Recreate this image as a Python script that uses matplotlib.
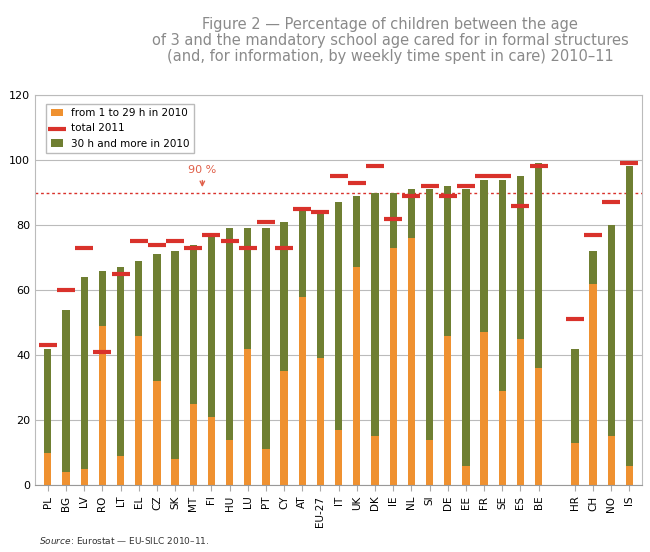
import matplotlib
matplotlib.use("Agg")
import matplotlib.pyplot as plt
import numpy as np

countries = ["PL","BG","LV","RO","LT","EL","CZ","SK","MT","FI","HU","LU","PT","CY","AT","EU-27","IT","UK","DK","IE","NL","SI","DE","EE","FR","SE","ES","BE","","HR","CH","NO","IS"]
total2010 = [42,54,64,66,67,69,71,72,74,77,79,79,79,81,85,84,87,89,90,90,91,91,92,91,94,94,95,99,None,42,72,80,98]
part_1_29 = [10,4,5,49,9,46,32,8,25,21,14,42,11,35,58,39,17,67,15,73,76,14,46,6,47,29,45,36,None,13,62,15,6]
total2011 = [43,60,73,41,65,75,74,75,73,77,75,73,81,73,85,84,95,93,98,82,89,92,89,92,95,95,86,98,None,51,77,87,99]

green = "#6f7f32"; orange = "#ef9130"; red = "#d9322b"
fig = plt.figure(figsize=(6.5,5.52), dpi=100)
ax = fig.add_axes([0.054, 0.121, 0.934, 0.707])
idx = [i for i,c in enumerate(countries) if c]
x = np.array(idx)
o = np.array([part_1_29[i] for i in idx]); t = np.array([total2010[i] for i in idx]); t11 = np.array([total2011[i] for i in idx])
ax.bar(x, o, width=0.4, color=orange, label="from 1 to 29 h in 2010", zorder=2)
ax.bar(x, t-o, bottom=o, width=0.4, color=green, label="30 h and more in 2010", zorder=2)
ax.scatter(x, t11, marker="_", s=180, linewidths=3, color=red, label="total 2011", zorder=3)
ax.axhline(90, color=red, ls=(0,(2,2)), lw=1, zorder=1)
ax.annotate("90 %", xy=(8.5, 90.8), xytext=(8.5, 96), ha="center", color="#e0604a", fontsize=8,
            arrowprops=dict(arrowstyle="->", color="#e0604a", lw=1))
ax.set_xlim(-0.7, len(countries)-0.3)
ax.set_ylim(0,120)
ax.set_yticks(range(0,121,20))
ax.yaxis.grid(True, color="#bbbbbb", lw=0.8, zorder=0)
ax.set_xticks(x); ax.set_xticklabels([countries[i] for i in idx], rotation=90, fontsize=7.5)
ax.tick_params(axis="y", length=0, labelsize=8)
ax.tick_params(axis="x", length=4, color="#aaaaaa")
for s in ["left","top","right"]: ax.spines[s].set_color("#bbbbbb")
ax.spines["bottom"].set_color("#999999")
h, l = ax.get_legend_handles_labels()
order = [1,0,2]
leg = ax.legend([h[i] for i in order], [l[i] for i in order], loc="upper left", bbox_to_anchor=(0.01,0.99),
                fontsize=7.5, fancybox=False, edgecolor="#aaaaaa", handlelength=1.2)
fig.text(0.6, 0.97, "Figure 2 — Percentage of children between the age\nof 3 and the mandatory school age cared for in formal structures\n(and, for information, by weekly time spent in care) 2010–11",
         ha="center", va="top", color="#8a8a8a", fontsize=10.5, linespacing=1.1)
fig.text(0.06, 0.015, r"$\it{Source}$: Eurostat — EU-SILC 2010–11.", fontsize=6.5, color="#333333")
fig.savefig("out.png", dpi=100)
